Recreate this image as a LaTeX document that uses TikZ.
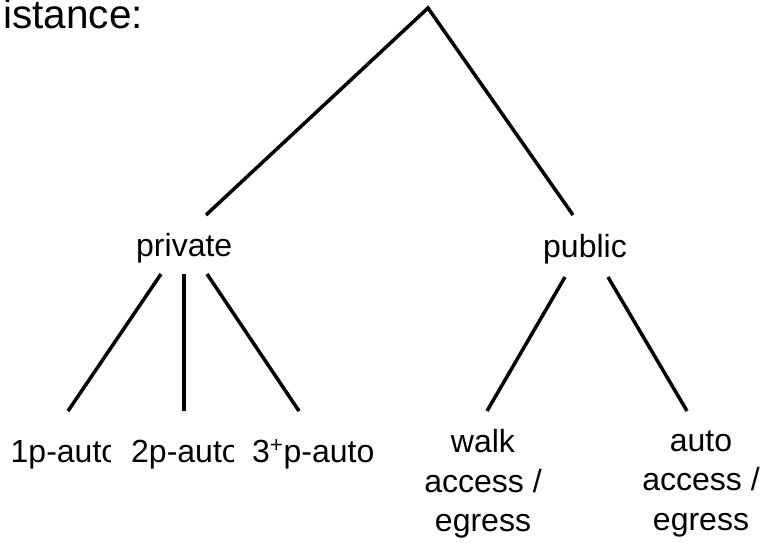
\documentclass[tikz,border=0pt]{standalone}
\usepackage{fontspec}
\setmainfont{Liberation Sans}
\begin{document}
\begin{tikzpicture}[x=1pt,y=-1pt,
  branch/.style={line width=3.5pt,line cap=butt},
  lbl/.style={inner sep=0pt,anchor=base west,font=\fontsize{32}{39.5}\selectfont},
  leaf/.style={inner sep=0pt,anchor=north,align=center,font=\fontsize{32}{39.5}\selectfont}]
\useasboundingbox (0,0) rectangle (764,542);
\clip (0,0) rectangle (764,542);

% heading, running off the left edge
\node[inner sep=0pt,anchor=base west,font=\fontsize{40.5}{48}\selectfont] (title) at (-19.5,28) {distance:};

% tree levels
\coordinate (root) at (428,8);
\coordinate (privTop) at (206,215);
\coordinate (pubTop) at (573,215);
\node[lbl] (private) at (136,256) {private};
\node[lbl] (public) at (543,257) {public};

\draw[branch,line join=miter] (privTop) -- (root) -- (pubTop);

% private branches
\coordinate (pA) at (161,274); \coordinate (pAe) at (68,411);
\coordinate (pB) at (184,274); \coordinate (pBe) at (184,411);
\coordinate (pC) at (207,274); \coordinate (pCe) at (299,411);
\draw[branch] (pA) -- (pAe);
\draw[branch] (pB) -- (pBe);
\draw[branch] (pC) -- (pCe);

% public branches
\coordinate (qA) at (565,277); \coordinate (qAe) at (487,411);
\coordinate (qB) at (608,277); \coordinate (qBe) at (687,411);
\draw[branch] (qA) -- (qAe);
\draw[branch] (qB) -- (qBe);

% private leaves (first two are cut short by their cells)
\begin{scope}
  \clip (0,420) rectangle (110,480);
  \node[lbl] (oneP) at (10.5,462) {1p-auto};
\end{scope}
\begin{scope}
  \clip (120,420) rectangle (233,480);
  \node[lbl] (twoP) at (131,462) {2p-auto};
\end{scope}
\node[lbl] (threeP) at (252,462) {3\textsuperscript{+}p-auto};

% public leaves
\node[leaf] (walkAE) at (483,429.6) {walk\\access /\\egress};
\node[leaf] (autoAE) at (701,430.5) {auto\\access /\\egress};
\end{tikzpicture}
\end{document}
